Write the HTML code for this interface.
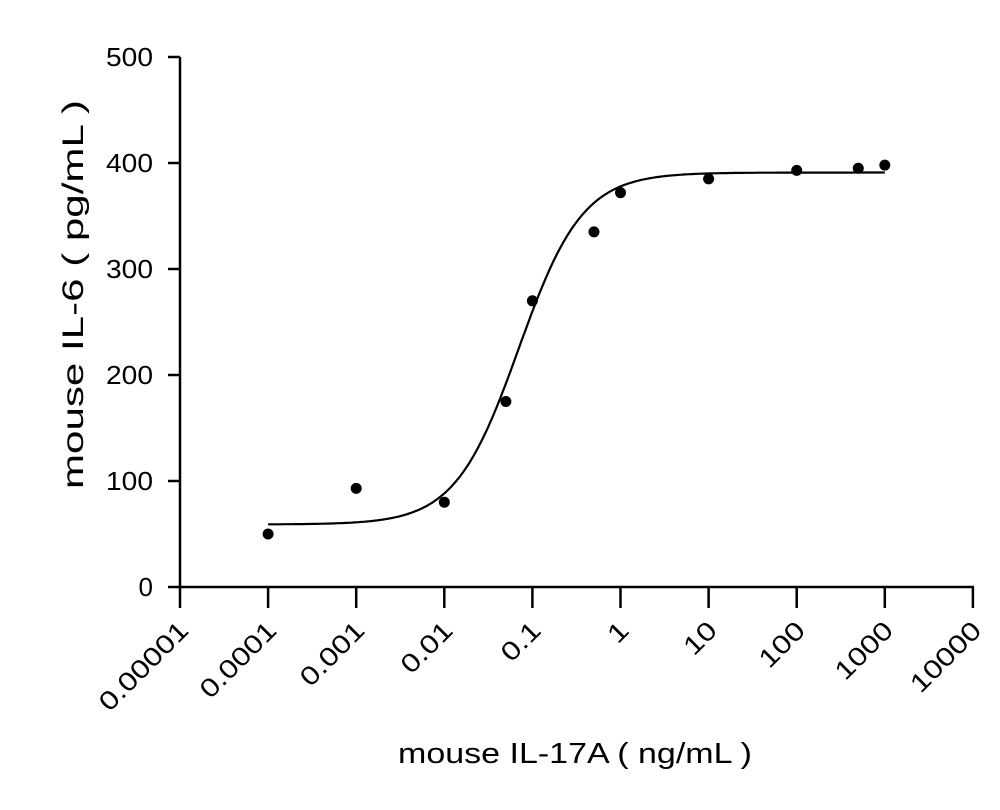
<!DOCTYPE html>
<html><head><meta charset="utf-8"><style>body{margin:0;background:#fff}svg{display:block}text{font-family:"Liberation Sans",Arial,"Noto Sans CJK SC",sans-serif;fill:#000}</style></head>
<body>
<svg id="s" width="1000" height="810" viewBox="0 0 1000 810" xmlns="http://www.w3.org/2000/svg">
<g stroke="#000" stroke-width="2.5" fill="none">
<line x1="180" y1="57" x2="180" y2="588"/>
<line x1="168" y1="587" x2="974" y2="587"/>
<line x1="168" y1="57" x2="180" y2="57"/>
<line x1="168" y1="163" x2="180" y2="163"/>
<line x1="168" y1="269" x2="180" y2="269"/>
<line x1="168" y1="375" x2="180" y2="375"/>
<line x1="168" y1="481" x2="180" y2="481"/>
</g>
<g font-size="26" text-anchor="end">
<text x="153" y="66" textLength="47" lengthAdjust="spacingAndGlyphs">500</text><text x="153" y="172" textLength="47" lengthAdjust="spacingAndGlyphs">400</text><text x="153" y="278" textLength="47" lengthAdjust="spacingAndGlyphs">300</text>
<text x="153" y="384" textLength="47" lengthAdjust="spacingAndGlyphs">200</text><text x="153" y="490" textLength="47" lengthAdjust="spacingAndGlyphs">100</text><text x="153" y="596">0</text>
</g>
<g id="xt"></g>
<path id="curve" fill="none" stroke="#000" stroke-width="2.2"/>
<g id="pts"></g>
<text x="398" y="763" font-size="29" textLength="354" lengthAdjust="spacingAndGlyphs">mouse IL-17A ( ng/mL )</text>
<text transform="translate(83,489) rotate(-90)" font-size="30" textLength="389" lengthAdjust="spacingAndGlyphs">mouse IL-6 ( pg/mL )</text>
</svg>
<script>
var ns="http://www.w3.org/2000/svg";
function X(v){return 180+(Math.log10(v)+5)*88.1;}
function Y(v){return 587-v*1.06;}
var labs=["0.00001","0.0001","0.001","0.01","0.1","1","10","100","1000","10000"];
var g=document.getElementById("xt");
labs.forEach(function(l,i){var x=180+i*88.1;
var t=document.createElementNS(ns,"line");t.setAttribute("x1",x);t.setAttribute("x2",x);t.setAttribute("y1",587);t.setAttribute("y2",608);t.setAttribute("stroke","#000");t.setAttribute("stroke-width","2.5");g.appendChild(t);
var tx=document.createElementNS(ns,"text");tx.setAttribute("font-size","26");tx.setAttribute("text-anchor","end");tx.setAttribute("textLength",(l.length*17.5-(l.indexOf('.')>=0?9:0)).toFixed(0));tx.setAttribute("lengthAdjust","spacingAndGlyphs");tx.setAttribute("transform","translate("+(x+10)+",632) rotate(-45)");tx.textContent=l;g.appendChild(tx);});
var d="";for(var i=0;i<=300;i++){var lx=-4+i*7/300;var v=Math.pow(10,lx);var y=59+332/(1+Math.pow(0.07/v,1.2));d+=(i?"L":"M")+X(v).toFixed(1)+" "+Y(y).toFixed(1);}
document.getElementById("curve").setAttribute("d",d);
var P=[[0.0001,50],[0.001,93],[0.01,80],[0.05,175],[0.1,270],[0.5,335],[1,372],[10,385],[100,393],[500,395],[1000,398]];
var pg=document.getElementById("pts");
P.forEach(function(p){var c=document.createElementNS(ns,"circle");c.setAttribute("cx",X(p[0]));c.setAttribute("cy",Y(p[1]));c.setAttribute("r","5.5");pg.appendChild(c);});
</script>
</body></html>
